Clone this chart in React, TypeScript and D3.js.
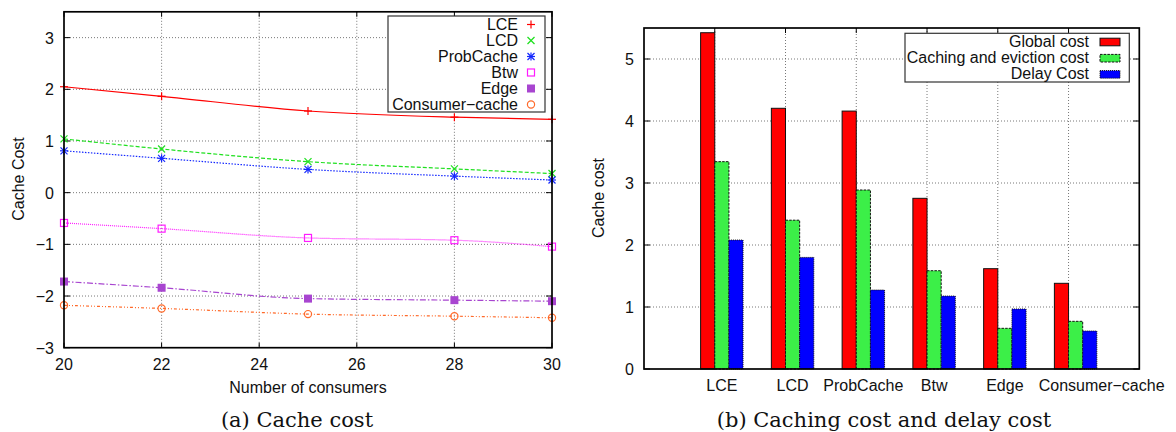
import React from 'react';
import * as d3 from 'd3';

// (a) cache cost vs number of consumers
const consumers = [20, 22, 25, 28, 30];
const lceCost = [2.05, 1.865, 1.58, 1.46, 1.42];
const lcdCost = [1.04, 0.845, 0.6, 0.46, 0.37];
const probCacheCost = [0.81, 0.665, 0.45, 0.32, 0.245];
const btwCost = [-0.586, -0.696, -0.876, -0.92, -1.044];
const edgeCost = [-1.72, -1.84, -2.05, -2.08, -2.1];
const consumerCacheCost = [-2.18, -2.24, -2.35, -2.39, -2.42];
const xTicksA = [20, 22, 24, 26, 28, 30];
const yTicksA = [-3, -2, -1, 0, 1, 2, 3];

// (b) caching cost and delay cost per scheme
const schemes = ['LCE', 'LCD', 'ProbCache', 'Btw', 'Edge', 'Consumer−cache'];
const globalCost = [5.424, 4.205, 4.16, 2.753, 1.618, 1.382];
const cachingCost = [3.344, 2.4, 2.887, 1.585, 0.656, 0.769];
const delayCost = [2.08, 1.8, 1.274, 1.177, 0.968, 0.613];
const yTicksB = [0, 1, 2, 3, 4, 5];

const SANS = 'Liberation Sans, Arial, Helvetica, sans-serif';
const SERIF = 'DejaVu Serif, serif';
const GRID = { stroke: '#555', strokeWidth: 0.8, strokeDasharray: '1,2' };

type MarkerKind = 'plus' | 'cross' | 'star' | 'box' | 'fbox' | 'circle';

const lineSeries: { name: string; values: number[]; color: string; dash: string; marker: MarkerKind }[] = [
  { name: 'LCE', values: lceCost, color: '#ff0000', dash: 'none', marker: 'plus' },
  { name: 'LCD', values: lcdCost, color: '#1fe01f', dash: '4,2', marker: 'cross' },
  { name: 'ProbCache', values: probCacheCost, color: '#1428ff', dash: '1.5,1.5', marker: 'star' },
  { name: 'Btw', values: btwCost, color: '#ff1cff', dash: '1,1', marker: 'box' },
  { name: 'Edge', values: edgeCost, color: '#a845d0', dash: '6,2,1.5,2', marker: 'fbox' },
  { name: 'Consumer−cache', values: consumerCacheCost, color: '#ff6a2a', dash: '3,2,1,2,1,2', marker: 'circle' },
];

const barSeries = [
  { name: 'Global cost', values: globalCost, fill: '#ff0000', dash: 'none' },
  { name: 'Caching and eviction cost', values: cachingCost, fill: '#3cef48', dash: '2.5,1.2' },
  { name: 'Delay Cost', values: delayCost, fill: '#0000ff', dash: '1,1' },
];

const Marker = ({ kind, x, y, color }: { kind: MarkerKind; x: number; y: number; color: string }) => {
  const s = 3.5;
  const plus = (
    <>
      <line x1={x - s - 0.5} x2={x + s + 0.5} y1={y} y2={y} />
      <line x1={x} x2={x} y1={y - s - 0.5} y2={y + s + 0.5} />
    </>
  );
  const cross = (
    <>
      <line x1={x - s} x2={x + s} y1={y - s} y2={y + s} />
      <line x1={x - s} x2={x + s} y1={y + s} y2={y - s} />
    </>
  );
  return (
    <g stroke={color} strokeWidth={1.2} fill="none">
      {kind === 'plus' && plus}
      {kind === 'cross' && cross}
      {kind === 'star' && (
        <>
          {plus}
          {cross}
        </>
      )}
      {kind === 'box' && <rect x={x - 3.5} y={y - 3.5} width={7} height={7} />}
      {kind === 'fbox' && <rect x={x - 4} y={y - 4} width={8} height={8} fill={color} stroke="none" />}
      {kind === 'circle' && <circle cx={x} cy={y} r={3.6} />}
    </g>
  );
};

const CacheCostChart = () => {
  const x = d3.scaleLinear().domain([20, 30]).range([64, 552]);
  const y = d3.scaleLinear().domain([-3, 3.5]).range([347.7, 11.8]);
  const [x0, x1] = x.range();
  const [y0, y1] = y.range();
  const line = d3
    .line<number>()
    .x((_, i) => x(consumers[i]))
    .y((d) => y(d))
    .curve(d3.curveMonotoneX);
  const fmt = d3.format('d');

  return (
    <g>
      {xTicksA.slice(1, -1).map((t) => (
        <line key={'gx' + t} x1={x(t)} x2={x(t)} y1={y1} y2={y0} {...GRID} />
      ))}
      {yTicksA.slice(1).map((t) => (
        <line key={'gy' + t} x1={x0} x2={x1} y1={y(t)} y2={y(t)} {...GRID} />
      ))}
      <g stroke="#000" strokeWidth={1}>
        {xTicksA.map((t) => (
          <g key={'tx' + t}>
            <line x1={x(t)} x2={x(t)} y1={y0} y2={y0 - 5} />
            <line x1={x(t)} x2={x(t)} y1={y1} y2={y1 + 5} />
          </g>
        ))}
        {yTicksA.map((t) => (
          <g key={'ty' + t}>
            <line x1={x0} x2={x0 + 6} y1={y(t)} y2={y(t)} />
            <line x1={x1} x2={x1 - 6} y1={y(t)} y2={y(t)} />
          </g>
        ))}
      </g>

      {lineSeries.map((s) => (
        <g key={s.name}>
          <path d={line(s.values) || ''} fill="none" stroke={s.color} strokeWidth={1.2} strokeDasharray={s.dash} />
          {s.values.map((v, i) => (
            <Marker key={i} kind={s.marker} x={x(consumers[i])} y={y(v)} color={s.color} />
          ))}
        </g>
      ))}

      <rect x={x0} y={y1} width={x1 - x0} height={y0 - y1} fill="none" stroke="#000" strokeWidth={1.7} />

      <g fontFamily={SANS} fontSize={16} fill="#111">
        {yTicksA.map((t) => (
          <text key={'ly' + t} x={x0 - 10} y={y(t) + 6} textAnchor="end">
            {fmt(t)}
          </text>
        ))}
        {xTicksA.map((t) => (
          <text key={'lx' + t} x={x(t)} y={370} textAnchor="middle">
            {fmt(t)}
          </text>
        ))}
        <text x={(x0 + x1) / 2} y={392.7} textAnchor="middle">
          Number of consumers
        </text>
        <text transform="translate(24,179) rotate(-90)" textAnchor="middle">
          Cache Cost
        </text>
      </g>

      {/* legend */}
      <g>
        <rect x={388} y={16} width={157} height={96} fill="#fff" stroke="#333" strokeWidth={1.2} />
        {lineSeries.map((s, i) => (
          <g key={'lg' + s.name}>
            <text x={518} y={30 + i * 16} textAnchor="end" fontFamily={SANS} fontSize={16} fill="#111">
              {s.name}
            </text>
            <Marker kind={s.marker} x={531} y={24.5 + i * 16} color={s.color} />
          </g>
        ))}
      </g>

      <text x={297} y={426.5} textAnchor="middle" fontFamily={SERIF} fontSize={21} fill="#111">
        (a) Cache cost
      </text>
    </g>
  );
};

const CachingDelayChart = () => {
  const x = d3.scaleLinear().domain([0, 7]).range([644, 1139.3]);
  const y = d3.scaleLinear().domain([0, 5.5]).range([369, 28]);
  const [x0, x1] = x.range();
  const [y0, y1] = y.range();
  const barW = 0.2;
  const gridX = d3.range(1, 7);

  return (
    <g>
      {gridX.map((t) => (
        <line key={'gx' + t} x1={x(t)} x2={x(t)} y1={y1} y2={y0} {...GRID} />
      ))}
      {yTicksB.slice(1).map((t) => (
        <line key={'gy' + t} x1={x0} x2={x1} y1={y(t)} y2={y(t)} {...GRID} />
      ))}
      <g stroke="#000" strokeWidth={1}>
        {gridX.map((t) => (
          <line key={'tx' + t} x1={x(t)} x2={x(t)} y1={y1} y2={y1 + 5} />
        ))}
        {yTicksB.map((t) => (
          <g key={'ty' + t}>
            <line x1={x0} x2={x0 + 6} y1={y(t)} y2={y(t)} />
            <line x1={x1} x2={x1 - 6} y1={y(t)} y2={y(t)} />
          </g>
        ))}
      </g>

      {barSeries.map((s, k) =>
        s.values.map((v, i) => {
          const left = x(i + 0.8 + k * barW);
          return (
            <rect
              key={s.name + i}
              x={left}
              y={y(v)}
              width={x(i + 0.8 + (k + 1) * barW) - left}
              height={y0 - y(v)}
              fill={s.fill}
              stroke="#111"
              strokeWidth={1}
              strokeDasharray={s.dash}
            />
          );
        })
      )}

      <rect x={x0} y={y1} width={x1 - x0} height={y0 - y1} fill="none" stroke="#000" strokeWidth={1.7} />

      <g fontFamily={SANS} fontSize={16} fill="#111">
        {yTicksB.map((t) => (
          <text key={'ly' + t} x={x0 - 10} y={y(t) + 6} textAnchor="end">
            {t}
          </text>
        ))}
        {schemes.map((name, i) => (
          // the last label sits right of its group in the original
          <text key={name} x={x(i + 1.1)} dx={i === schemes.length - 1 ? 26 : 0} y={390.7} textAnchor="middle">
            {name}
          </text>
        ))}
        <text transform="translate(604,198) rotate(-90)" textAnchor="middle">
          Cache cost
        </text>
      </g>

      {/* legend */}
      <g>
        <rect x={905} y={33.3} width={224.3} height={48.7} fill="#fff" stroke="#333" strokeWidth={1.2} />
        {barSeries.map((s, i) => (
          <g key={'lg' + s.name}>
            <text x={1089} y={46.7 + i * 16.2} textAnchor="end" fontFamily={SANS} fontSize={16} fill="#111">
              {s.name}
            </text>
            <rect
              x={1100}
              y={38.2 + i * 16.2}
              width={20}
              height={7.6}
              fill={s.fill}
              stroke="#111"
              strokeWidth={1}
              strokeDasharray={s.dash}
            />
          </g>
        ))}
      </g>

      <text x={884} y={426.5} textAnchor="middle" fontFamily={SERIF} fontSize={21} fill="#111">
        (b) Caching cost and delay cost
      </text>
    </g>
  );
};

const App = () => (
  <svg
    width={1176}
    height={432}
    viewBox="0 0 1176 432"
    style={{ position: 'absolute', left: 0, top: 0, background: '#fff' }}
  >
    <CacheCostChart />
    <CachingDelayChart />
  </svg>
);

export default App;
